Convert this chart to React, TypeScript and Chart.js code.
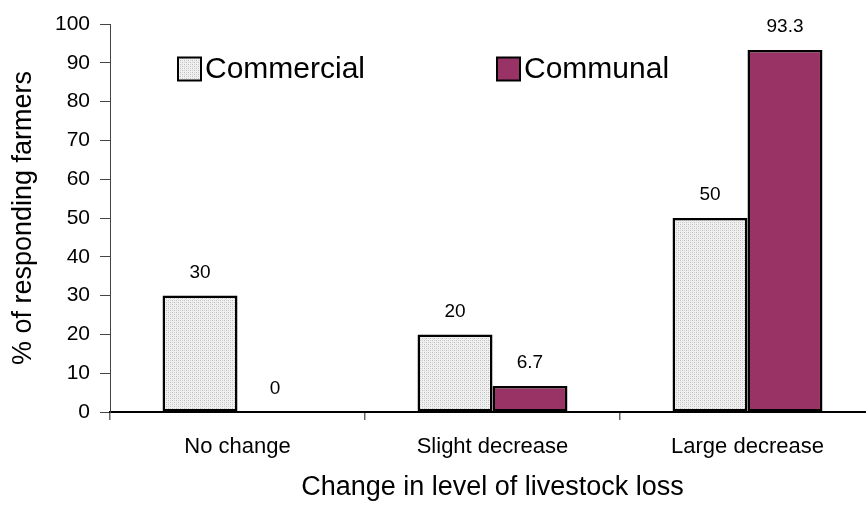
import React, { useEffect, useRef } from 'react';
import { Chart, registerables } from 'chart.js';

Chart.register(...registerables);

const categories = ['No change', 'Slight decrease', 'Large decrease'];
const seriesNames = ['Commercial', 'Communal'];
const commercialValues = [30, 20, 50];
const communalValues = [0, 6.7, 93.3];
const yMin = 0;
const yMax = 100;
const yStep = 10;
const xTitle = 'Change in level of livestock loss';
const yTitle = '% of responding farmers';

const FONT = '"Liberation Sans", Arial, Helvetica, sans-serif';
const COMMUNAL_COLOR = '#993366';

function makePattern(): CanvasPattern | string {
  const c = document.createElement('canvas');
  c.width = 4;
  c.height = 4;
  const g = c.getContext('2d');
  if (!g) return '#e6e6e6';
  g.fillStyle = '#f0f0f0';
  g.fillRect(0, 0, 4, 4);
  g.fillStyle = '#bcbcbc';
  g.fillRect(0, 0, 1, 1);
  g.fillRect(2, 2, 1, 1);
  g.fillStyle = '#d4d4d4';
  g.fillRect(0, 2, 1, 1);
  g.fillRect(2, 0, 1, 1);
  const p = g.createPattern(c, 'repeat');
  return p || '#e6e6e6';
}

const valueLabels = {
  id: 'valueLabels',
  afterDatasetsDraw(chart: any) {
    const ctx = chart.ctx;
    ctx.save();
    ctx.font = `19px ${FONT}`;
    ctx.fillStyle = '#000';
    ctx.textAlign = 'center';
    ctx.textBaseline = 'middle';
    chart.data.datasets.forEach((ds: any, i: number) => {
      const meta = chart.getDatasetMeta(i);
      meta.data.forEach((el: any, j: number) => {
        ctx.fillText(String(ds.data[j]), el.x, el.y - 23);
      });
    });
    ctx.restore();
  },
};

const insideLegend = {
  id: 'insideLegend',
  afterDraw(chart: any) {
    const ctx = chart.ctx;
    const area = chart.chartArea;
    const offsets = [68, 387];
    const size = 23;
    const cy = area.top + 45;
    ctx.save();
    ctx.font = `30px ${FONT}`;
    ctx.textBaseline = 'middle';
    ctx.textAlign = 'left';
    chart.data.datasets.forEach((ds: any, i: number) => {
      const x = area.left + offsets[i];
      ctx.fillStyle = ds.backgroundColor;
      ctx.fillRect(x, cy - size / 2, size, size);
      ctx.lineWidth = 2;
      ctx.strokeStyle = '#000';
      ctx.strokeRect(x, cy - size / 2, size, size);
      ctx.fillStyle = '#000';
      ctx.fillText(ds.label, x + size + 4, cy + 1);
    });
    ctx.restore();
  },
};

export default function App() {
  const ref = useRef<HTMLCanvasElement | null>(null);

  useEffect(() => {
    if (!ref.current) return;
    const pattern = makePattern();
    const chart = new Chart(ref.current, {
      type: 'bar',
      data: {
        labels: categories,
        datasets: [
          {
            label: seriesNames[0],
            data: commercialValues,
            backgroundColor: pattern as any,
            borderColor: '#000',
            borderWidth: 2.5,
            borderSkipped: false,
            categoryPercentage: 0.588,
            barPercentage: 1,
          },
          {
            label: seriesNames[1],
            data: communalValues,
            backgroundColor: COMMUNAL_COLOR,
            borderColor: '#000',
            borderWidth: 2.5,
            borderSkipped: false,
            categoryPercentage: 0.588,
            barPercentage: 1,
          },
        ],
      },
      options: {
        responsive: false,
        animation: false,
        devicePixelRatio: 1,
        layout: { padding: { top: 24, right: 5, left: 0, bottom: 0 } },
        plugins: {
          legend: { display: false },
          tooltip: { enabled: false },
        },
        scales: {
          x: {
            offset: true,
            grid: {
              display: true,
              offset: true,
              drawOnChartArea: false,
              drawTicks: true,
              tickLength: 8,
              color: '#666',
              lineWidth: 1.5,
            },
            border: { display: true, color: '#000', width: 2 },
            ticks: {
              color: '#000',
              font: { family: FONT, size: 22 },
              padding: 14,
              maxRotation: 0,
            },
            title: {
              display: true,
              text: xTitle,
              color: '#000',
              font: { family: FONT, size: 27 },
              padding: { top: 0, bottom: 6 },
            },
            afterFit(scale: any) {
              scale.height = 98;
            },
          },
          y: {
            min: yMin,
            max: yMax,
            ticks: {
              stepSize: yStep,
              color: '#000',
              font: { family: FONT, size: 21 },
              padding: 10,
            },
            grid: {
              display: true,
              drawOnChartArea: false,
              drawTicks: true,
              tickLength: 10,
              color: '#444',
              lineWidth: 1,
            },
            border: { display: true, color: '#444', width: 1 },
            title: {
              display: true,
              text: yTitle,
              color: '#000',
              font: { family: FONT, size: 27 },
              padding: { top: 7, bottom: 0 },
            },
            afterFit(scale: any) {
              scale.width = 110;
            },
          },
        },
      },
      plugins: [valueLabels, insideLegend],
    });
    return () => chart.destroy();
  }, []);

  return (
    <div
      style={{
        position: 'absolute',
        left: 0,
        top: 0,
        width: 866,
        height: 510,
        overflow: 'hidden',
        background: '#fff',
      }}
    >
      <canvas ref={ref} width={880} height={510} style={{ display: 'block' }} />
    </div>
  );
}
